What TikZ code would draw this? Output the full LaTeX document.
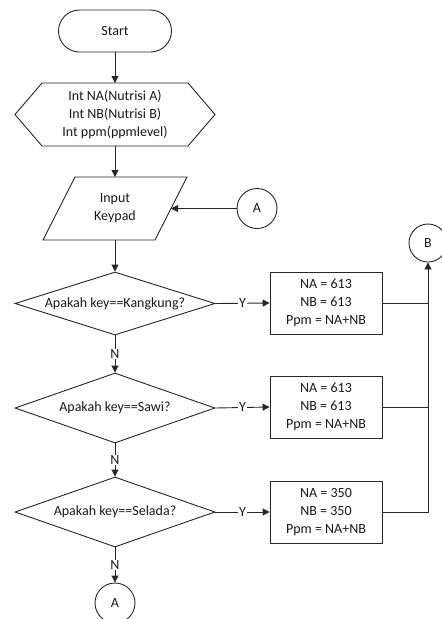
\documentclass[tikz,border=0pt]{standalone}
\usepackage{fontspec}
\setmainfont{Carlito}
\usetikzlibrary{shapes.geometric,arrows.meta}
\begin{document}
\begin{tikzpicture}[x=1pt,y=-1pt,
  every node/.style={font=\fontsize{14}{18}\selectfont, text=black!90},
  line/.style={draw=black!85, line width=0.9pt},
  arr/.style={line, -{Triangle[length=7pt,width=7pt]}},
  proc/.style={line, rectangle, minimum width=112pt, minimum height=62pt, align=center, inner sep=0pt},
  dec/.style={line, diamond, minimum width=200pt, inner sep=0pt},
  conn/.style={line, circle, inner sep=0pt},
  lbl/.style={fill=white, inner sep=1pt}]
\useasboundingbox (0,0) rectangle (442,619);

% Start terminal
\node[line, rectangle, rounded corners=21pt, minimum width=113pt, minimum height=42pt] (start) at (115,31) {Start};

% Hexagon (preparation)
\node[minimum width=200pt, minimum height=63pt, align=center, inner sep=0pt] (hex) at (115,114.5)
  {Int NA(Nutrisi A)\\Int NB(Nutrisi B)\\Int ppm(ppmlevel)};
\draw[line] (15,114.5) -- (42,83) -- (188,83) -- (215,114.5) -- (188,146) -- (42,146) -- cycle;

% Parallelogram (input)
\node[minimum width=112pt, minimum height=63pt, align=center, inner sep=0pt] (inp) at (115,208.5)
  {Input\\Keypad};
\draw[line] (75,177) -- (187,177) -- (155,240) -- (43,240) -- cycle;
\coordinate (inpR) at (171,208.5);

% Connector A (top)
\node[conn, minimum size=40pt] (A1) at (257,208.5) {A};

% Decisions
\node[dec, minimum height=63pt, label=center:{Apakah key==Kangkung?}] (d1) at (115,303.5) {};
\node[dec, minimum height=70pt, label=center:{Apakah key==Sawi?}] (d2) at (115,408) {};
\node[dec, minimum height=70pt, label=center:{Apakah key==Selada?}] (d3) at (115,512) {};

% Process boxes
\node[proc] (b1) at (326,303) {NA = 613\\NB = 613\\Ppm = NA+NB};
\node[proc] (b2) at (326,407) {NA = 613\\NB = 613\\Ppm = NA+NB};
\node[proc] (b3) at (326,512) {NA = 350\\NB = 350\\Ppm = NA+NB};

% Connectors B and A (bottom)
\node[conn, minimum size=38pt] (B) at (428,243) {B};
\node[conn, minimum size=40pt] (A2) at (115,603) {A};

% Flow
\draw[arr] (start.south) -- (115,83);
\draw[arr] (115,146) -- (115,177);
\draw[arr] (115,240) -- (d1.north);
\draw[arr] (A1.west) -- (inpR);

\draw[arr] (d1.east) -- node[lbl] {Y} (b1.west);
\draw[arr] (d2.east) -- node[lbl] {Y} (b2.west);
\draw[arr] (d3.east) -- node[lbl] {Y} (b3.west);

\draw[arr] (d1.south) -- node[lbl] {N} (d2.north);
\draw[arr] (d2.south) -- node[lbl] {N} (d3.north);
\draw[arr] (d3.south) -- node[lbl] {N} (A2.north);

\draw[line] (b1.east) -- (b1.east -| B.south);
\draw[line] (b2.east) -- (b2.east -| B.south);
\draw[arr] (b3.east) -| (B.south);
\end{tikzpicture}
\end{document}
